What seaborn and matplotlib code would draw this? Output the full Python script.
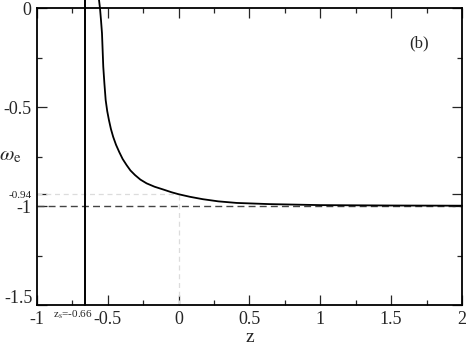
import numpy as np
import matplotlib
matplotlib.use('Agg')
import matplotlib.pyplot as plt
import seaborn as sns
import pandas as pd

# ------------------
# データ
# ------------------
z_vals = [-0.562, -0.555, -0.548, -0.541, -0.532, -0.524, -0.515, -0.504, -0.492, -0.478,
          -0.462, -0.442, -0.419, -0.395, -0.367, -0.34, -0.308, -0.27, -0.226, -0.17,
          -0.109, -0.05, 0.0, 0.08, 0.17, 0.28, 0.41, 0.644, 1.0, 1.5, 2.0]
w_vals = [0.042, 0.0, -0.06, -0.126, -0.295, -0.38, -0.464, -0.52, -0.565, -0.61,
          -0.65, -0.69, -0.727, -0.762, -0.793, -0.82, -0.843, -0.866, -0.885, -0.902,
          -0.916, -0.93, -0.94, -0.953, -0.965, -0.976, -0.984, -0.99, -0.995, -0.997, -0.998]
z_s = -0.66
w_today = -0.94
w_lambda = -1.0

x_ticks = [-1, -0.5, 0, 0.5, 1, 1.5, 2]
x_labels = ['-1', '-0.5', '0', '0.5', '1', '1.5', '2']
y_ticks = [0, -0.5, -1, -1.5]
y_labels = ['0', '-0.5', '-1', '']

# ------------------
# 描画
# ------------------
sns.set_style('ticks')
plt.rcParams['font.family'] = ['Liberation Serif', 'DejaVu Serif']
plt.rcParams['mathtext.fontset'] = 'stix'

fig = plt.figure(figsize=(4.68, 3.46), dpi=100)
ax = fig.add_axes([0.079, 0.1185, 0.908, 0.8575])

df = pd.DataFrame({'z': z_vals, 'w': w_vals})

# 補助線
ax.plot([-1, 0], [w_today, w_today], color='#dcdcdc', lw=0.9, ls=(0, (4, 3)), zorder=1)
ax.plot([0, 0], [-1.5, w_today], color='#dcdcdc', lw=0.9, ls=(0, (4, 3)), zorder=1)
ax.axhline(w_lambda, color='#444444', lw=1.0, ls=(0, (5, 3)), zorder=2)

# 特異点の縦線
ax.plot([z_s, z_s], [-1.5, 0.042], color='black', lw=1.4, clip_on=False, zorder=3)

# 曲線
sns.lineplot(data=df, x='z', y='w', sort=False, estimator=None, color='black',
             lw=1.3, ax=ax, zorder=4)
ax.lines[-1].set_clip_on(False)

ax.set_xlim(-1, 2)
ax.set_ylim(-1.5, 0)

ax.set_xticks(x_ticks)
ax.set_xticklabels(x_labels, fontsize=13)
ax.set_yticks(y_ticks + [w_today])
ax.set_yticklabels(y_labels + ['-0.94'], fontsize=13)
ax.get_yticklabels()[-1].set_fontsize(8)
ax.set_xticks(np.arange(-0.75, 2, 0.5), minor=True)
ax.set_yticks([-0.25, -0.75, -1.25], minor=True)

ax.tick_params(which='both', direction='in', top=True, right=True, width=0.9)
ax.tick_params(which='major', length=7, pad=4)
ax.tick_params(which='minor', length=3.5)

for s in ax.spines.values():
    s.set_linewidth(1.3)
    s.set_color('black')

# -1.5 のラベルは軸下端より少し上に置く
ax.annotate('-1.5', xy=(-1, -1.5), xytext=(-3, 5), textcoords='offset points',
            fontsize=13, ha='right', va='center', annotation_clip=False)

ax.set_xlabel('z', fontsize=14, labelpad=1)
ax.set_ylabel(r'$\omega_{\rm e}$', fontsize=15, rotation=0)
ax.yaxis.set_label_coords(-0.062, 0.47)

ax.text(1.70, -0.175, '(b)', fontsize=12, ha='center', va='center')
ax.annotate(r'z$_{\rm s}$=-0.66', xy=(-0.605, -1.5), xytext=(0, -7), textcoords='offset points',
            fontsize=8, ha='right', va='center', annotation_clip=False)

fig.savefig('out.png', dpi=100)
